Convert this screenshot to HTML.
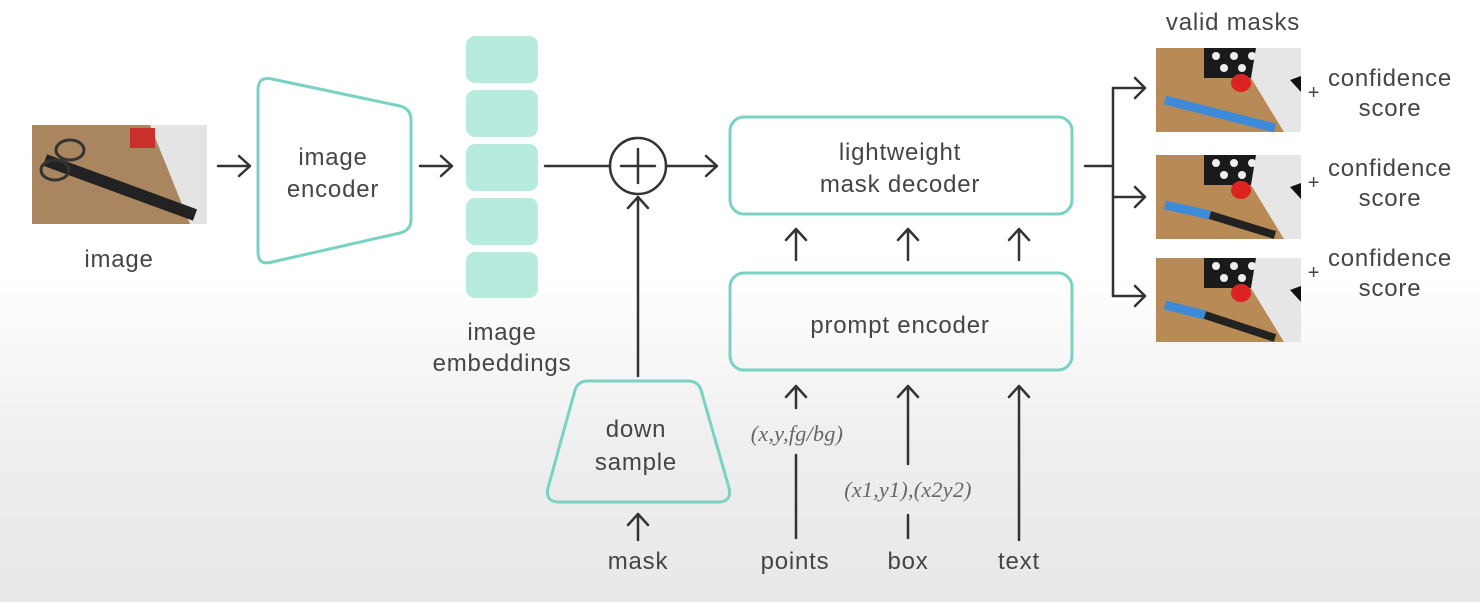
<!DOCTYPE html>
<html><head><style>
html,body{margin:0;padding:0;}
body{width:1480px;height:602px;overflow:hidden;}
svg text{font-family:"Liberation Sans",sans-serif;fill:#454545;font-size:24px;letter-spacing:0.8px;text-anchor:middle;}
.it{font-family:"Liberation Serif",serif;font-style:italic;fill:#666;font-size:22px;letter-spacing:0.3px;}
</style></head><body>
<svg width="1480" height="602" viewBox="0 0 1480 602" xmlns="http://www.w3.org/2000/svg">
<defs>
<linearGradient id="bg" x1="0" y1="0" x2="0" y2="1">
<stop offset="0" stop-color="#fff"/><stop offset="0.46" stop-color="#fff"/>
<stop offset="0.75" stop-color="#eeeeee"/><stop offset="1" stop-color="#e8e8e8"/>
</linearGradient>
<g id="mimg">
<rect x="0" y="0" width="145" height="84" fill="#b88a55"/>
<rect x="48" y="0" width="80" height="30" fill="#1a1a1a"/>
<circle cx="60" cy="8" r="4" fill="#eee"/><circle cx="78" cy="8" r="4" fill="#eee"/><circle cx="96" cy="8" r="4" fill="#eee"/><circle cx="114" cy="8" r="4" fill="#eee"/>
<circle cx="68" cy="20" r="4" fill="#eee"/><circle cx="86" cy="20" r="4" fill="#eee"/><circle cx="104" cy="20" r="4" fill="#eee"/>
<polygon points="100,0 145,0 145,84 128,84 95,30" fill="#e6e6e6"/>
<polygon points="134,32 145,28 145,44" fill="#111"/>
<ellipse cx="85" cy="35" rx="10" ry="9" fill="#d22"/>
</g>
</defs>
<rect width="1480" height="602" fill="url(#bg)"/>
<g stroke="#333" stroke-width="2.5" fill="none" stroke-linecap="round" stroke-linejoin="round">
<path d="M218 166H250M239 156L250 166L239 176"/>
<path d="M420 166H452M441 156L452 166L441 176"/>
<path d="M545 166H610"/>
<path d="M666 166H717M706 156L717 166L706 176"/>
<circle cx="638" cy="166" r="28"/>
<path d="M638 149V183M621 166H655"/>
<path d="M638 376V197M628 208L638 197L648 208"/>
<path d="M638 540V514M628 525L638 514L648 525"/>
<path d="M796 260V229M786 240L796 229L806 240"/>
<path d="M908 260V229M898 240L908 229L918 240"/>
<path d="M1019 260V229M1009 240L1019 229L1029 240"/>
<path d="M796 408V386M786 397L796 386L806 397M796 455V538"/>
<path d="M908 464V386M898 397L908 386L918 397M908 515V538"/>
<path d="M1019 540V386M1009 397L1019 386L1029 397"/>
<path d="M1085 166H1113M1113 88V296"/>
<path d="M1113 88H1145M1135 78L1145 88L1135 98"/>
<path d="M1113 197H1145M1135 187L1145 197L1135 207"/>
<path d="M1113 296H1145M1135 286L1145 296L1135 306"/>
</g>
<rect x="32" y="125" width="175" height="99" fill="#a98560"/>
<polygon points="150,125 207,125 207,224 190,224" fill="#e4e4e4"/>
<rect x="130" y="128" width="25" height="20" fill="#c9302c"/>
<path d="M45 160 L195 215" stroke="#222" stroke-width="12"/>
<ellipse cx="70" cy="150" rx="14" ry="10" fill="none" stroke="#333" stroke-width="3"/>
<ellipse cx="55" cy="170" rx="14" ry="10" fill="none" stroke="#333" stroke-width="3"/>
<text x="119" y="267">image</text>
<path d="M258 90 Q258 76 272 79 L400 106 Q411 109 411 120 L411 220 Q411 230 400 233 L272 262 Q258 266 258 252 Z" fill="none" stroke="#79d3c2" stroke-width="3"/>
<text x="333" y="165">image</text><text x="333" y="197">encoder</text>
<g fill="#b6ebde">
<rect x="466" y="36" width="72" height="47" rx="9"/>
<rect x="466" y="90" width="72" height="47" rx="9"/>
<rect x="466" y="144" width="72" height="47" rx="9"/>
<rect x="466" y="198" width="72" height="47" rx="9"/>
<rect x="466" y="252" width="72" height="46" rx="9"/>
</g>
<text x="502" y="340">image</text><text x="502" y="371">embeddings</text>
<path d="M588 381 L688 381 Q698 381 701 390 L729 488 Q732 502 718 502 L559 502 Q545 502 548 488 L575 390 Q578 381 588 381 Z" fill="none" stroke="#79d3c2" stroke-width="3"/>
<text x="636" y="437">down</text><text x="636" y="470">sample</text>
<text x="638" y="569">mask</text>
<rect x="730" y="117" width="342" height="97" rx="14" fill="none" stroke="#79d3c2" stroke-width="3"/>
<text x="900" y="160">lightweight</text><text x="900" y="192">mask decoder</text>
<rect x="730" y="273" width="342" height="97" rx="14" fill="none" stroke="#79d3c2" stroke-width="3"/>
<text x="900" y="333">prompt encoder</text>
<text class="it" x="797" y="441">(x,y,fg/bg)</text>
<text class="it" x="908" y="497">(x1,y1),(x2y2)</text>
<text x="795" y="569">points</text><text x="908" y="569">box</text><text x="1019" y="569">text</text>
<text x="1233" y="30">valid masks</text>
<use href="#mimg" x="1156" y="48"/>
<use href="#mimg" x="1156" y="155"/>
<use href="#mimg" x="1156" y="258"/>
<path d="M1165 100 L1275 128" stroke="#3c8ad8" stroke-width="9"/>
<path d="M1165 205 L1210 215" stroke="#3c8ad8" stroke-width="9"/><path d="M1210 215 L1275 235" stroke="#222" stroke-width="8"/>
<path d="M1165 305 L1205 315" stroke="#3c8ad8" stroke-width="9"/><path d="M1205 315 L1275 338" stroke="#222" stroke-width="8"/>
<text x="1314" y="99" style="font-size:20px">+</text><text x="1314" y="189" style="font-size:20px">+</text><text x="1314" y="279" style="font-size:20px">+</text>
<text x="1390" y="86">confidence</text><text x="1390" y="116">score</text>
<text x="1390" y="176">confidence</text><text x="1390" y="206">score</text>
<text x="1390" y="266">confidence</text><text x="1390" y="296">score</text>
</svg>
</body></html>
